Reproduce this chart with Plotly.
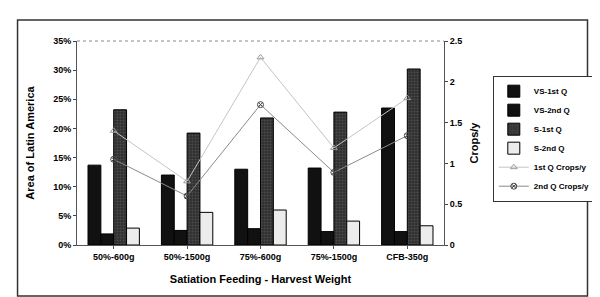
import plotly.graph_objects as go

categories = ["50%-600g", "50%-1500g", "75%-600g", "75%-1500g", "CFB-350g"]
vs_1st_q = [0.137, 0.120, 0.130, 0.132, 0.235]
vs_2nd_q = [0.019, 0.025, 0.028, 0.023, 0.023]
s_1st_q = [0.232, 0.192, 0.218, 0.228, 0.302]
s_2nd_q = [0.029, 0.056, 0.060, 0.041, 0.033]
crops_1st_q = [1.40, 0.78, 2.30, 1.19, 1.80]
crops_2nd_q = [1.05, 0.60, 1.72, 0.89, 1.34]

FONT = dict(family="Liberation Sans, Arial, sans-serif", size=9, color="black", weight="bold")

fig = go.Figure()
fig.add_bar(x=categories, y=vs_1st_q, name="VS-1st Q",
            marker=dict(color="#111111", line=dict(color="black", width=1)))
fig.add_bar(x=categories, y=vs_2nd_q, name="VS-2nd Q",
            marker=dict(color="#111111", line=dict(color="black", width=1)))
fig.add_bar(x=categories, y=s_1st_q, name="S-1st Q",
            marker=dict(color="#2e2e2e", line=dict(color="black", width=1),
                        pattern=dict(shape=".", fgcolor="#6a6a6a", size=3, solidity=0.4)))
fig.add_bar(x=categories, y=s_2nd_q, name="S-2nd Q",
            marker=dict(color="#ececec", line=dict(color="black", width=1)))
fig.add_scatter(x=categories, y=crops_1st_q, name="1st Q Crops/y", yaxis="y2",
                mode="lines+markers", line=dict(color="#c4c4c4", width=1),
                marker=dict(symbol="triangle-up-open", size=6, color="#9a9a9a"))
fig.add_scatter(x=categories, y=crops_2nd_q, name="2nd Q Crops/y", yaxis="y2",
                mode="lines+markers", line=dict(color="#8a8a8a", width=1),
                marker=dict(symbol="circle-x-open", size=6, color="#444444"))

fig.update_layout(
    width=600, height=297,
    margin=dict(l=69, r=155, t=33, b=60),
    paper_bgcolor="white", plot_bgcolor="white",
    font=FONT,
    barmode="group", bargap=0.3, bargroupgap=0,
    showlegend=True,
    legend=dict(x=1.133, y=0.83, xanchor="left", yanchor="top",
                bordercolor="#333333", borderwidth=1, bgcolor="white",
                font=dict(size=8, family=FONT["family"], weight="bold"),
                tracegroupgap=0, itemwidth=30),
    xaxis=dict(showline=True, linecolor="#555555", ticks="outside", tickcolor="#555555",
               ticklen=3, showgrid=False,
               title=dict(text="Satiation Feeding - Harvest Weight", standoff=14)),
    yaxis=dict(range=[0, 0.35], dtick=0.05, tickformat=".0%", showline=True,
               linecolor="#555555", ticks="outside", ticklen=3, showgrid=False,
               zeroline=False, title=dict(text="Area of Latin America", standoff=16)),
    yaxis2=dict(range=[0, 2.5], dtick=0.5, overlaying="y", side="right",
                showline=True, linecolor="#555555", ticks="outside", ticklen=3,
                showgrid=False, zeroline=False, tickformat="~g",
                title=dict(text="Crops/y", standoff=8)),
    shapes=[
        dict(type="line", xref="paper", yref="paper", x0=0, x1=1, y0=1, y1=1,
             line=dict(color="#888888", width=1, dash="dot")),
        dict(type="rect", xref="paper", yref="paper", x0=-0.162, x1=1.391,
             y0=-0.25, y1=1.103, line=dict(color="#333333", width=1.5)),
    ],
)

fig.write_html("out.html")
